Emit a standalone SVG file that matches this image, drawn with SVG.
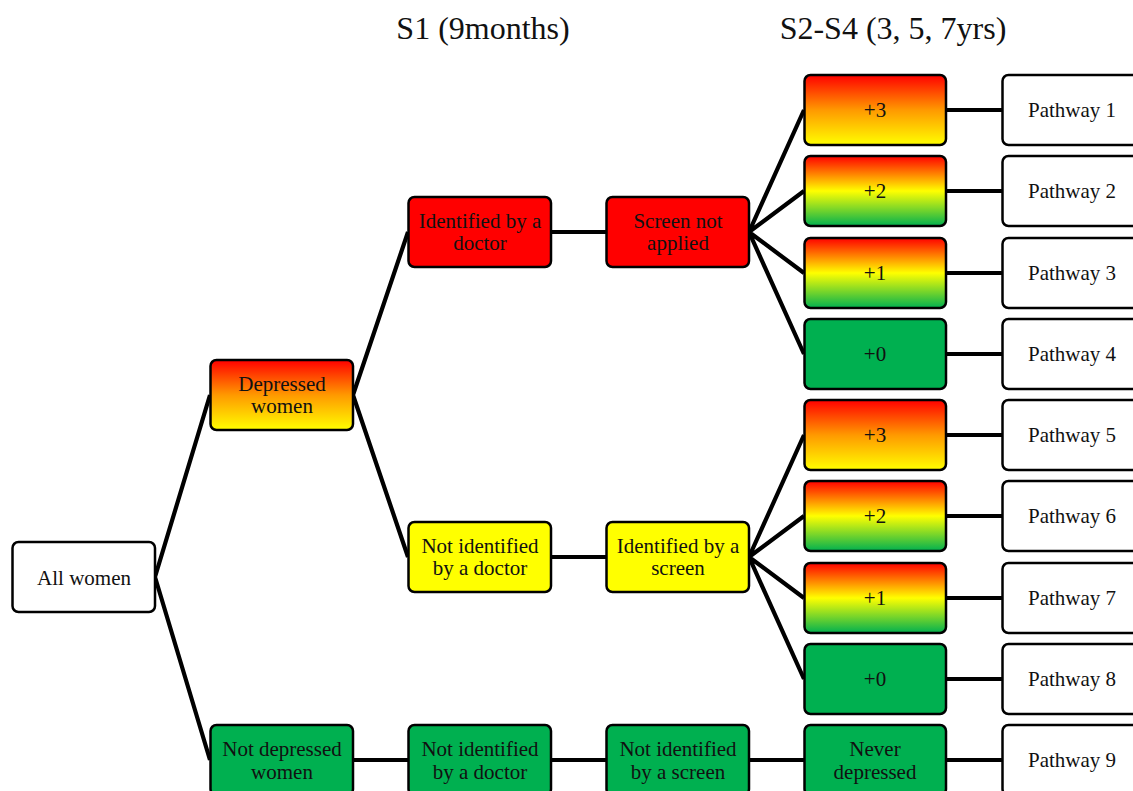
<svg xmlns="http://www.w3.org/2000/svg" width="1133" height="791" viewBox="0 0 1133 791">
<defs>
<linearGradient id="gRY" x1="0" y1="0" x2="0" y2="1">
<stop offset="0" stop-color="#FF0000"/><stop offset="0.5" stop-color="#FF9900"/><stop offset="1" stop-color="#FFFF00"/>
</linearGradient>
<linearGradient id="gRYG" x1="0" y1="0" x2="0" y2="1">
<stop offset="0" stop-color="#FF0000"/><stop offset="0.5" stop-color="#FFFF00"/><stop offset="1" stop-color="#00B050"/>
</linearGradient>
<style>
.b{stroke:#000;stroke-width:2.5}
.w{fill:#fff}.r{fill:#FF0000}.y{fill:#FFFF00}.g{fill:#00B050}
.ry{fill:url(#gRY)}.ryg{fill:url(#gRYG)}
text{font-size:21px;fill:#111;text-anchor:middle}
.t{font-size:32px}
.c{stroke:#000;stroke-width:4.2;fill:none}
</style>
</defs>
<rect width="1133" height="791" fill="#fff"/>
<g font-family="'Liberation Serif', 'DejaVu Serif', serif">
<text class="t" x="483" y="39">S1 (9months)</text>
<text class="t" x="893" y="39">S2-S4 (3, 5, 7yrs)</text>
<g id="connectors">
<path class="c" d="M155 577L210 395M155 577L210 760M353 395L408 232M353 395L408 557M551 232H606M551 557H606M353 760H408M551 760H606M749 760H804M946 760H1002"/>
<path class="c" d="M749 232L804 110M749 232L804 191M749 232L804 273M749 232L804 354M749 557L804 435M749 557L804 516M749 557L804 598M749 557L804 679"/>
<path class="c" d="M946 110H1002M946 191H1002M946 273H1002M946 354H1002M946 435H1002M946 516H1002M946 598H1002M946 679H1002"/>
</g>
<g id="all"><rect class="b w" x="12.5" y="542" width="142.5" height="70" rx="6"/><text x="84" y="585">All women</text></g>
<g id="dep"><rect class="b ry" x="210.5" y="360" width="142.5" height="70" rx="6"/><text x="282" y="391">Depressed</text><text x="282" y="413">women</text></g>
<g id="notdep"><rect class="b g" x="210.5" y="725" width="142.5" height="70" rx="6"/><text x="282" y="756">Not depressed</text><text x="282" y="779">women</text></g>
<g id="iddoc"><rect class="b r" x="408.5" y="197" width="142.5" height="70" rx="6"/><text x="480" y="228">Identified by a</text><text x="480" y="250">doctor</text></g>
<g id="notiddoc"><rect class="b y" x="408.5" y="522" width="142.5" height="70" rx="6"/><text x="480" y="553">Not identified</text><text x="480" y="575">by a doctor</text></g>
<g id="notiddoc2"><rect class="b g" x="408.5" y="725" width="142.5" height="70" rx="6"/><text x="480" y="756">Not identified</text><text x="480" y="779">by a doctor</text></g>
<g id="screenna"><rect class="b r" x="606.5" y="197" width="142.5" height="70" rx="6"/><text x="678" y="228">Screen not</text><text x="678" y="250">applied</text></g>
<g id="idscreen"><rect class="b y" x="606.5" y="522" width="142.5" height="70" rx="6"/><text x="678" y="553">Identified by a</text><text x="678" y="575">screen</text></g>
<g id="notidscreen"><rect class="b g" x="606.5" y="725" width="142.5" height="70" rx="6"/><text x="678" y="756">Not identified</text><text x="678" y="779">by a screen</text></g>
<g id="s1p3"><rect class="b ry" x="804.5" y="75" width="141.5" height="70" rx="6"/><text x="875" y="117">+3</text></g>
<g id="s1p2"><rect class="b ryg" x="804.5" y="156" width="141.5" height="70" rx="6"/><text x="875" y="198">+2</text></g>
<g id="s1p1"><rect class="b ryg" x="804.5" y="238" width="141.5" height="70" rx="6"/><text x="875" y="280">+1</text></g>
<g id="s1p0"><rect class="b g" x="804.5" y="319" width="141.5" height="70" rx="6"/><text x="875" y="361">+0</text></g>
<g id="s2p3"><rect class="b ry" x="804.5" y="400" width="141.5" height="70" rx="6"/><text x="875" y="442">+3</text></g>
<g id="s2p2"><rect class="b ryg" x="804.5" y="481" width="141.5" height="70" rx="6"/><text x="875" y="523">+2</text></g>
<g id="s2p1"><rect class="b ryg" x="804.5" y="563" width="141.5" height="70" rx="6"/><text x="875" y="605">+1</text></g>
<g id="s2p0"><rect class="b g" x="804.5" y="644" width="141.5" height="70" rx="6"/><text x="875" y="686">+0</text></g>
<g id="never"><rect class="b g" x="804.5" y="725" width="141.5" height="70" rx="6"/><text x="875" y="756">Never</text><text x="875" y="779">depressed</text></g>
<g id="pw1"><rect class="b w" x="1002.5" y="75" width="141.5" height="70" rx="6"/><text x="1072" y="117">Pathway 1</text></g>
<g id="pw2"><rect class="b w" x="1002.5" y="156" width="141.5" height="70" rx="6"/><text x="1072" y="198">Pathway 2</text></g>
<g id="pw3"><rect class="b w" x="1002.5" y="238" width="141.5" height="70" rx="6"/><text x="1072" y="280">Pathway 3</text></g>
<g id="pw4"><rect class="b w" x="1002.5" y="319" width="141.5" height="70" rx="6"/><text x="1072" y="361">Pathway 4</text></g>
<g id="pw5"><rect class="b w" x="1002.5" y="400" width="141.5" height="70" rx="6"/><text x="1072" y="442">Pathway 5</text></g>
<g id="pw6"><rect class="b w" x="1002.5" y="481" width="141.5" height="70" rx="6"/><text x="1072" y="523">Pathway 6</text></g>
<g id="pw7"><rect class="b w" x="1002.5" y="563" width="141.5" height="70" rx="6"/><text x="1072" y="605">Pathway 7</text></g>
<g id="pw8"><rect class="b w" x="1002.5" y="644" width="141.5" height="70" rx="6"/><text x="1072" y="686">Pathway 8</text></g>
<g id="pw9"><rect class="b w" x="1002.5" y="725" width="141.5" height="70" rx="6"/><text x="1072" y="767">Pathway 9</text></g>
</g>
</svg>
